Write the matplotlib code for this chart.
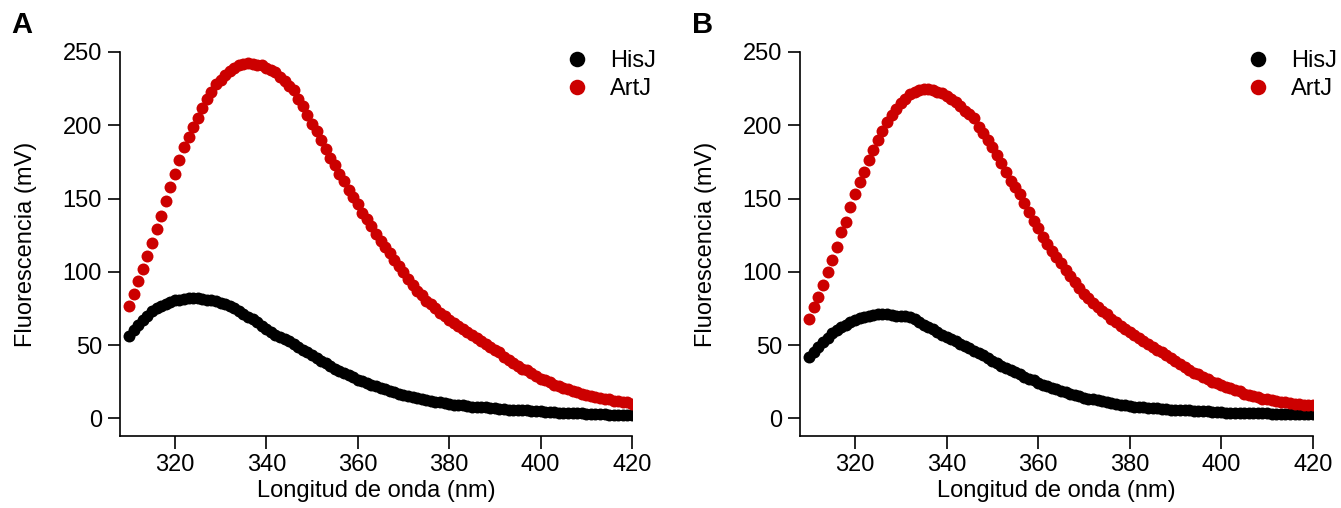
import matplotlib
matplotlib.use("Agg")
import matplotlib.pyplot as plt
import numpy as np

plt.rcParams['font.family'] = ['Liberation Sans', 'DejaVu Sans']

# wavelength axis, 1 nm steps
wavelength = list(range(310, 421))

# panel A
hisj_a = [56, 60, 64, 67, 70, 73, 75, 77, 78, 79.5,
          80.5, 81, 81.5, 82, 82, 82, 81.5, 81, 80.5, 80,
          79, 78, 76.5, 75, 73, 71, 69.5, 67.5, 65.5, 63,
          61, 59, 57, 55.5, 54, 52.5, 50.5, 48.5, 46.5, 45,
          43, 41, 39.5, 37.5, 36, 34, 32.5, 31, 29.5, 28,
          26.5, 25.5, 24, 23, 22, 21, 20, 19, 18, 17,
          16, 15, 14.5, 14, 13, 12.5, 12, 11.5, 11, 10.5,
          10, 9.5, 9, 9, 8.5, 8, 8, 7.5, 7.5, 7,
          7, 6.5, 6.5, 6, 6, 6, 5.5, 5.5, 5, 5,
          5, 4.5, 4.5, 4.5, 4, 4, 4, 3.5, 3.5, 3.5,
          3, 3, 3, 3, 3, 2.5, 2.5, 2.5, 2.5, 2, 2]
artj_a = [77, 85, 94, 102, 111, 120, 129, 138, 148, 158,
          167, 176, 185, 192, 199, 205, 212, 218, 223, 228,
          231, 234, 237, 239, 241, 242, 242.5, 242, 241, 241,
          239, 238, 236, 233, 230, 227, 224, 218, 213, 207,
          201, 196, 190, 184, 178, 173, 167, 162, 156, 151,
          146, 140, 136, 131, 126, 121, 117, 113, 108, 104,
          100, 95, 91, 87, 84, 80, 78, 75, 72, 70,
          67, 65, 63, 61, 59, 57, 55, 53, 51, 49,
          47, 45, 42, 40, 38, 36, 34, 33, 31, 29,
          27, 26, 25, 23, 22, 21, 20, 19, 18, 17,
          16, 15, 14.5, 14, 13, 13, 12, 12, 11, 11, 10]

# panel B
hisj_b = [42, 45, 49, 52, 55, 58, 60, 62.5, 64, 66,
          67, 68.5, 69, 70, 70.5, 71, 71, 71, 70.5, 70,
          70, 70, 69.5, 68, 66, 64, 62.5, 61, 59, 57,
          55.5, 54, 52.5, 51, 49.5, 48, 46, 44.5, 43, 41,
          39.5, 38, 36, 34.5, 33, 31.5, 30, 28.5, 27, 26,
          24.5, 23, 22, 21, 20, 19, 18, 17, 16, 15,
          14, 13.5, 13, 12.5, 12, 11, 10.5, 10, 9.5, 9,
          8.5, 8, 8, 7.5, 7, 7, 7, 6.5, 6.5, 6,
          6, 6, 5.5, 5.5, 5, 5, 5, 5, 4.5, 4.5,
          4.5, 4, 4, 4, 4, 4, 3.5, 3.5, 3.5, 3.5,
          3.5, 3, 3, 3, 3, 3, 3, 3, 3, 3, 3]
artj_b = [68, 76, 83, 91, 100, 108, 117, 127, 134, 144,
          153, 161, 168, 176, 183, 190, 196, 202, 207, 211,
          215, 218, 221, 223, 224, 225, 225, 224, 223, 222,
          220, 218, 216, 213, 210, 208, 205, 199, 195, 190,
          185, 180, 174, 168, 162, 158, 153, 147, 141, 135,
          130, 124, 119, 114, 110, 106, 101, 97, 93, 89,
          85, 82, 79, 76, 73, 71, 68, 66, 63, 61,
          59, 57, 55, 53, 51, 49, 47, 45, 43, 41,
          39, 37, 35, 33, 31, 30, 28, 27, 25, 24,
          23, 21.5, 20.5, 19.5, 18.5, 17, 16, 15, 14.5, 13.5,
          13, 12.5, 12, 11.5, 11, 10.5, 10, 10, 9.5, 9, 9]

panels = [("A", hisj_a, artj_a), ("B", hisj_b, artj_b)]
series_names = ["HisJ", "ArtJ"]
series_colors = ["#000000", "#CC0000"]

fig = plt.figure(figsize=(13.41, 5.08), dpi=100)
ax_pos = [[0.0895, 0.1417, 0.3818, 0.756], [0.5966, 0.1417, 0.3824, 0.756]]

for i, (letter, hisj, artj) in enumerate(panels):
    ax = fig.add_axes(ax_pos[i])
    for name, vals, col in zip(series_names, [hisj, artj], series_colors):
        ax.plot(wavelength, vals, 'o', ls='none', color=col, ms=8.6, mew=0, label=name)
    ax.set_xlim(308, 420)
    ax.set_ylim(-12, 250)
    ax.set_xticks(np.arange(320, 421, 20))
    ax.set_yticks(np.arange(0, 251, 50))
    for s in ['top', 'right']:
        ax.spines[s].set_visible(False)
    for s in ['left', 'bottom']:
        ax.spines[s].set_linewidth(1.2)
    ax.tick_params(direction='out', length=9, width=1.2, labelsize=17, pad=4)
    ax.set_xlabel("Longitud de onda (nm)", fontsize=17)
    ax.set_ylabel("Fluorescencia (mV)", fontsize=17)
    ax.xaxis.set_label_coords(0.5, -0.115)
    ax.yaxis.set_label_coords(-0.162, 0.5)
    leg = ax.legend(loc='center left', bbox_to_anchor=(0.87, 0.94), frameon=False,
                    fontsize=17, handlelength=1.0, handletextpad=0.9,
                    labelspacing=0.26, markerscale=1.3, borderpad=0, borderaxespad=0)
    fig.text(ax_pos[i][0] - 0.073, 0.95, letter, fontsize=21, fontweight='bold',
             ha='center', va='center')

fig.savefig("out.png", dpi=100)
